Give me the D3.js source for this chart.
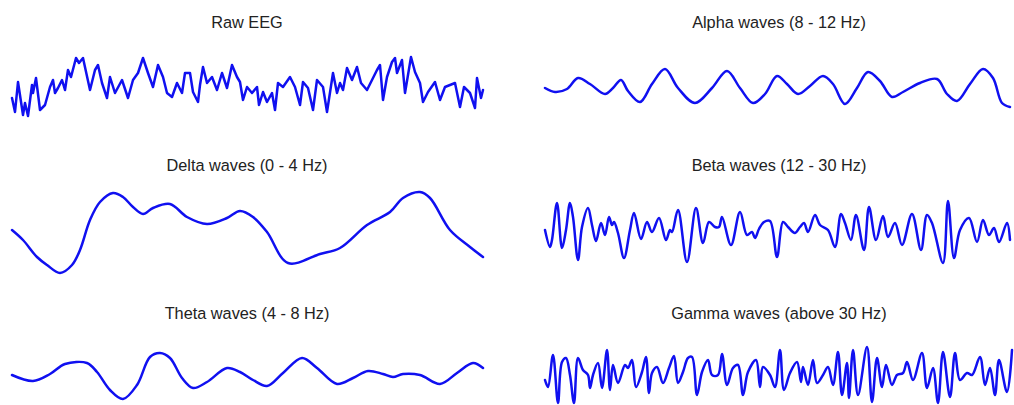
<!DOCTYPE html>
<html><head><meta charset="utf-8">
<script src="https://cdn.jsdelivr.net/npm/d3@7"></script>
<style>html,body{margin:0;padding:0;background:#fff;}svg{display:block;}</style>
</head><body>
<svg id="c" width="1014" height="405"></svg>
<script>
// Titles
const titles = ["Raw EEG","Delta waves (0 - 4 Hz)","Theta waves (4 - 8 Hz)","Alpha waves (8 - 12 Hz)","Beta waves (12 - 30 Hz)","Gamma waves (above 30 Hz)"];

// [time sample, amplitude]
const rawEEG = [[0,-10],[3,-24],[6,6],[11,-27],[13,-15],[16,-28],[20,3],[21,-5],[24,10],[28,-22],[33,-17],[38,1],[41,8],[43,-5],[46,0],[50,8],[53,-2],[56,18],[59,11],[64,30],[67,25],[71,30],[78,-2],[83,18],[86,23],[90,5],[95,-10],[98,11],[103,-5],[110,8],[116,-10],[121,8],[126,15],[131,30],[136,15],[141,1],[146,23],[151,11],[155,-5],[160,-9],[165,5],[170,-5],[173,15],[178,15],[181,-4],[186,-14],[188,3],[191,21],[195,5],[200,11],[205,-2],[210,15],[215,0],[220,23],[225,11],[228,6],[231,-12],[235,1],[240,-5],[245,1],[247,-17],[251,-4],[255,-14],[260,-5],[263,-22],[266,5],[271,1],[278,11],[283,1],[288,-17],[291,6],[296,0],[301,-22],[305,8],[311,1],[315,-24],[321,15],[325,-5],[328,5],[331,-2],[335,20],[340,8],[345,21],[349,5],[355,-2],[360,8],[365,18],[368,23],[371,-12],[375,11],[380,26],[383,30],[385,15],[390,28],[393,-5],[399,31],[403,16],[408,5],[411,-14],[416,-4],[423,6],[428,-12],[433,1],[438,3],[443,5],[448,-19],[452,1],[458,-5],[463,-20],[465,10],[469,-10],[471,-2]];

const delta = [[0,0],[11,-10],[25,-27],[35,-35],[48,-43],[60,-35],[68,-20],[78,10],[88,28],[101,37],[111,33],[121,23],[131,16],[141,22],[158,26],[175,13],[195,6],[215,12],[228,19],[241,13],[255,-2],[276,-33],[308,-24],[328,-18],[355,5],[378,18],[391,32],[408,38],[418,32],[438,0],[458,-17],[471,-27]];

const theta = [[0,0],[21,-6],[38,1],[53,11],[75,12],[85,3],[98,-15],[111,-24],[125,-10],[138,18],[148,22],[158,17],[170,-3],[181,-13],[195,-7],[215,7],[228,3],[241,-5],[255,-11],[271,2],[290,17],[305,7],[325,-9],[341,-3],[356,4],[371,1],[381,-2],[391,1],[408,0],[428,-9],[445,2],[461,12],[471,7]];

const alpha = [[0,0],[10,-4],[22,-1],[33,10],[45,4],[60,-6],[68,0],[76,8],[83,-3],[95,-14],[107,4],[120,19],[133,0],[150,-15],[167,0],[182,17],[195,0],[208,-15],[220,-6],[232,12],[242,4],[253,-6],[265,2],[278,12],[288,4],[300,-16],[312,0],[323,16],[335,7],[347,-9],[358,-4],[375,5],[392,9],[402,-6],[412,-13],[425,4],[438,19],[448,10],[457,-15],[465,-19]];

const beta = [[0,0],[5,-17],[7,-10],[12,27],[17,-18],[21,0],[25,27],[28,13],[33,-30],[37,3],[43,22],[47,5],[51,-11],[56,7],[60,-5],[64,13],[67,5],[69,8],[73,-3],[79,-28],[85,0],[89,17],[96,-9],[102,8],[107,-2],[114,12],[121,-10],[125,0],[127,-2],[133,20],[142,-32],[151,22],[158,-13],[164,8],[170,3],[174,3],[177,13],[186,-15],[195,18],[202,-5],[207,-2],[210,-8],[214,1],[219,8],[225,9],[232,-27],[238,8],[243,3],[250,-3],[255,3],[259,7],[263,-2],[270,15],[275,5],[283,0],[290,-17],[296,16],[300,7],[306,-10],[311,15],[319,-20],[324,23],[331,-10],[338,14],[343,-7],[350,7],[357,-15],[367,16],[376,-20],[382,15],[387,7],[398,-33],[403,29],[409,-28],[415,0],[424,12],[432,-12],[438,10],[444,-5],[449,2],[454,-12],[462,7],[465,-10]];

const gamma = [[0,-5],[3,-12],[8,20],[13,-28],[17,13],[21,17],[25,0],[29,-28],[33,17],[38,5],[43,0],[45,-13],[48,0],[53,12],[57,-13],[62,25],[65,-15],[68,10],[73,-8],[80,10],[83,7],[87,15],[91,-12],[97,3],[101,18],[104,-18],[107,2],[112,8],[118,-8],[124,7],[129,19],[133,-8],[138,3],[143,17],[147,18],[152,-20],[157,3],[163,15],[167,0],[173,0],[177,21],[182,-10],[188,7],[193,10],[198,-20],[203,3],[211,15],[215,-12],[218,8],[225,0],[230,-12],[235,25],[239,-15],[245,2],[252,13],[256,-7],[258,8],[263,-10],[268,15],[272,-8],[278,0],[283,8],[288,-10],[293,23],[297,-20],[302,12],[304,-23],[308,25],[313,-20],[322,28],[327,-27],[332,17],[337,-12],[341,10],[347,-10],[352,0],[358,2],[362,13],[368,-5],[377,22],[382,-13],[388,7],[393,-28],[398,23],[405,-22],[410,22],[415,-5],[422,2],[427,0],[435,18],[440,-10],[445,7],[450,-20],[454,15],[462,-17],[467,25]];

const series = [rawEEG, delta, theta, alpha, beta, gamma];
const smooth = [false, true, true, true, true, true];

// layout
const colLeft = [12, 545];
const rowBase = [88, 230, 375];
const titleY = [28, 171, 319];
const titleX = [247, 779];

const svg = d3.select("#c");
const x = d3.scaleLinear().domain([0, 470]).range([0, 470]);
const y = d3.scaleLinear().domain([-60, 60]).range([60, -60]);

series.forEach((data, i) => {
  const col = i < 3 ? 0 : 1, row = i % 3;
  svg.append("text")
    .attr("x", titleX[col]).attr("y", titleY[row])
    .attr("text-anchor", "middle")
    .attr("font-family", "Liberation Sans, Arial, sans-serif")
    .attr("font-size", 16.3)
    .attr("fill", "#222")
    .text(titles[i]);
  const g = svg.append("g").attr("transform", `translate(${colLeft[col]},${rowBase[row]})`);
  const line = d3.line().x(d => x(d[0])).y(d => y(d[1]))
    .curve(smooth[i] ? d3.curveCatmullRom.alpha(0.5) : d3.curveLinear);
  g.append("path").datum(data)
    .attr("d", line)
    .attr("fill", "none")
    .attr("stroke", "#1010f0")
    .attr("stroke-width", 2.5)
    .attr("stroke-linejoin", "round")
    .attr("stroke-linecap", "round");
});
</script>
</body></html>
